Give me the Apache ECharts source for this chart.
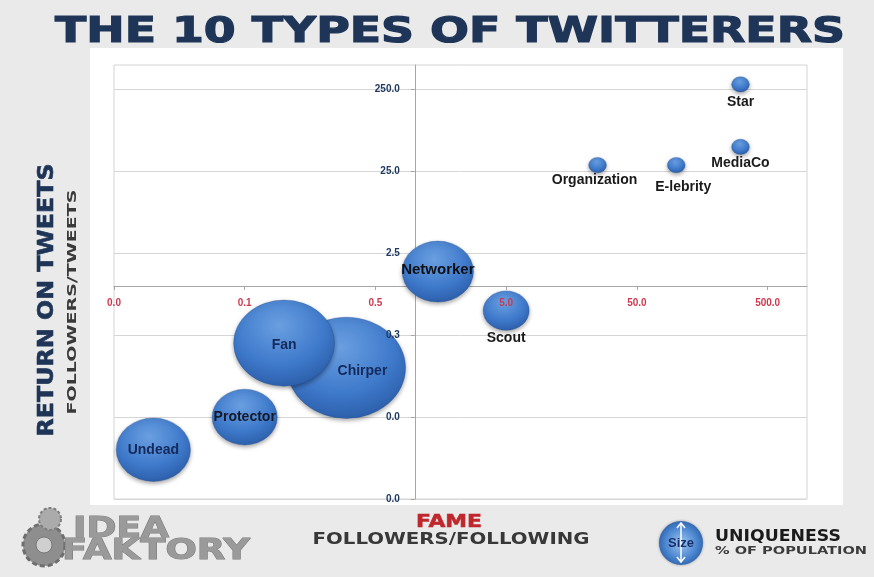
<!DOCTYPE html>
<html><head><meta charset="utf-8">
<script src="https://cdn.jsdelivr.net/npm/echarts@6/dist/echarts.min.js"></script>
<style>html,body{margin:0;padding:0;background:#eaeaea}#c{width:874px;height:577px}</style>
</head><body><div id="c"></div>
<script>
// ---- data ----
const names = ['Undead','Protector','Chirper','Fan','Networker','Scout','Organization','E-lebrity','MediaCo','Star'];
const fame = [0.01, 0.05, 0.3, 0.1, 1.5, 5, 25, 100, 310, 310];             // followers / following
const returnOnTweets = [0.01, 0.025, 0.1, 0.2, 1.5, 0.5, 30, 30, 50, 290];   // followers / tweets
const uniqueness = [13, 10, 33, 24, 12, 5, 0.75, 0.75, 0.75, 0.75];         // % of population
const xTicks = [0.005, 0.05, 0.5, 5, 50, 500];
const yTicks = [0.0025, 0.025, 0.25, 2.5, 25, 250];
const xRange = [0.005, 1000];
const yRange = [0.0025, 500];

// ---- styles ----
const navy = '#1e3557';
const labelCfg = {
  'Undead':      {position:'inside', color:'#15295a'},
  'Protector':   {position:'inside', color:'#161a28'},
  'Chirper':     {position:'inside', color:'#15295a', offset:[16,3]},
  'Fan':         {position:'inside', color:'#15295a', offset:[0,2]},
  'Networker':   {position:'inside', color:'#0f0f14', offset:[0,-2], fontSize:15},
  'Scout':       {position:'bottom', distance:1, color:'#1a1a1a'},
  'Organization':{position:'bottom', distance:0, color:'#1a1a1a', offset:[-3,0]},
  'E-lebrity':   {position:'bottom', distance:7, color:'#1a1a1a', offset:[7,0]},
  'MediaCo':     {position:'bottom', distance:1, color:'#1a1a1a'},
  'Star':        {position:'bottom', distance:3, color:'#1a1a1a'}
};
const G = {left:114, top:65, width:693, height:434};

const measCtx = document.createElement('canvas').getContext('2d');
function fit(text, font, target){ measCtx.font = font; return target / measCtx.measureText(text).width; }
function fitText(text, font, target, x, y, fill, extra){
  const s = fit(text, font, target);
  return Object.assign({type:'text', x:x, y:y, scaleX:s, scaleY:1,
    style:Object.assign({text:text, font:font, fill:fill, align:'center', verticalAlign:'middle'}, (extra||{}).style||{})},
    (extra||{}).el||{});
}

const bubbleFill = new echarts.graphic.RadialGradient(0.45, 0.3, 0.8, [
  {offset:0, color:'#6a9fe0'}, {offset:0.55, color:'#3f7acb'}, {offset:1, color:'#2656a0'}]);

const chart = echarts.init(document.getElementById('c'), null, {renderer:'canvas'});

const seriesData = names.map((n,i)=>({
  name:n, value:[fame[i], returnOnTweets[i], uniqueness[i]],
  label:Object.assign({show:true}, labelCfg[n])
}));

const titleFont = 'bold 36px "DejaVu Sans"';
const graphics = [
  {type:'rect', z:-10, shape:{x:90, y:48, width:753, height:457}, style:{fill:'#ffffff'}},
  fitText('THE 10 TYPES OF TWITTERERS', titleFont, 790, 450, 33, navy, {style:{stroke:navy, lineWidth:1.2}}),
  fitText('RETURN ON TWEETS', 'bold 21px "DejaVu Sans"', 273, 48, 300, navy, {el:{rotation:Math.PI/2}, style:{stroke:navy, lineWidth:0.6}}),
  fitText('FOLLOWERS/TWEETS', 'bold 13px "DejaVu Sans"', 225, 73, 302, '#3a3a3a', {el:{rotation:Math.PI/2}}),
  fitText('FAME', 'bold 18px "DejaVu Sans"', 66, 449, 522, '#c0272d', {style:{stroke:'#c0272d', lineWidth:0.6}}),
  fitText('FOLLOWERS/FOLLOWING', 'bold 15px "DejaVu Sans"', 277, 451, 540, '#383838'),
  // logo
  {type:'circle', shape:{cx:44, cy:545, r:21}, style:{fill:'#8e8e8e', stroke:'#6e6e6e', lineWidth:3, lineDash:[5,3]}},
  {type:'circle', shape:{cx:44, cy:545, r:8}, style:{fill:'#cfcfcf', stroke:'#777', lineWidth:1}},
  {type:'circle', shape:{cx:50, cy:519, r:11}, style:{fill:'#ababab', stroke:'#7e7e7e', lineWidth:2, lineDash:[3,2]}},
  fitText('IDEA', 'bold 28px "DejaVu Sans"', 96, 121, 530, '#9a9a9a', {style:{stroke:'#7c7c7c', lineWidth:1}}),
  fitText('FAKTORY', 'bold 28px "DejaVu Sans"', 188, 156, 552, '#9a9a9a', {style:{stroke:'#7c7c7c', lineWidth:1}}),
  // size legend
  {type:'circle', shape:{cx:681, cy:543, r:22}, style:{fill:new echarts.graphic.RadialGradient(0.5,0.5,0.6,[
      {offset:0,color:'#9fc6f0'},{offset:0.6,color:'#4b86d0'},{offset:1,color:'#23539c'}]), shadowBlur:3, shadowColor:'rgba(0,0,0,0.35)'}},
  {type:'line', shape:{x1:681, y1:524, x2:681, y2:562}, style:{stroke:'#ffffff', lineWidth:1.5}},
  {type:'polyline', shape:{points:[[677,528],[681,523],[685,528]]}, style:{stroke:'#fff', lineWidth:1.5, fill:null}},
  {type:'polyline', shape:{points:[[677,557],[681,562],[685,557]]}, style:{stroke:'#fff', lineWidth:1.5, fill:null}},
  {type:'text', x:681, y:543, style:{text:'Size', font:'bold 13px "Liberation Sans"', fill:'#17306a', align:'center', verticalAlign:'middle'}},
  fitText('UNIQUENESS', 'bold 15px "DejaVu Sans"', 126, 778, 537, '#1a1a1a'),
  fitText('% OF POPULATION', 'bold 10px "DejaVu Sans"', 152, 791, 551, '#3c3c3c')
];

function makeOption(xOff, yOff){
  const axLine = {show:true, onZero:false, lineStyle:{color:'#a6a6a6', width:1}};
  return {
    animation:false,
    backgroundColor:'#eaeaea',
    textStyle:{fontFamily:'"Liberation Sans"'},
    grid:{left:G.left, top:G.top, width:G.width, height:G.height, show:true,
          backgroundColor:'#ffffff', borderColor:'#d4d4d4', borderWidth:1},
    graphic:graphics,
    xAxis:[
      {type:'log', logBase:10, min:xRange[0], max:xRange[1], position:'bottom', offset:xOff, z:1,
       axisLine:axLine, axisTick:{show:true, customValues:xTicks, length:4, lineStyle:{color:'#a6a6a6'}},
       axisLabel:{show:false}, splitLine:{show:false}, minorTick:{show:false}},
      {type:'log', logBase:10, min:xRange[0], max:xRange[1], position:'bottom', offset:xOff, z:10,
       axisLine:{show:false, onZero:false}, axisTick:{show:false, customValues:xTicks},
       axisLabel:{show:true, customValues:xTicks, margin:12, color:'#cc3a4e', fontWeight:'bold', fontSize:10,
                  formatter:v=>Number(v).toFixed(1)},
       splitLine:{show:false}}
    ],
    yAxis:[
      {type:'log', logBase:10, min:yRange[0], max:yRange[1], position:'left', offset:yOff, z:1,
       axisLine:axLine, axisTick:{show:true, customValues:yTicks, length:4, lineStyle:{color:'#a6a6a6'}},
       axisLabel:{show:false}, splitLine:{show:true, lineStyle:{color:'#d6d6d6', width:1}}},
      {type:'log', logBase:10, min:yRange[0], max:yRange[1], position:'left', offset:yOff, z:10,
       axisLine:{show:false, onZero:false}, axisTick:{show:false, customValues:yTicks},
       axisLabel:{show:true, customValues:yTicks, margin:15, color:'#1f3a62', fontWeight:'bold', fontSize:10,
                  formatter:v=>Number(v).toFixed(1)},
       splitLine:{show:false}}
    ],
    series:[{
      type:'scatter', xAxisIndex:0, yAxisIndex:0, z:3,
      data:seriesData,
      symbol:'circle',
      symbolSize:v=>{const h = 17.6*Math.sqrt(v[2]); return [h*1.17, h];},
      itemStyle:{color:bubbleFill, opacity:1, borderColor:'rgba(30,70,140,0.6)', borderWidth:0.5,
                 shadowBlur:4, shadowColor:'rgba(0,0,0,0.35)', shadowOffsetY:2},
      label:{show:true, formatter:'{b}', fontFamily:'"Liberation Sans"', fontWeight:'bold', fontSize:14},
      emphasis:{disabled:true}
    }]
  };
}

chart.setOption(makeOption(0,0));
const p = chart.convertToPixel({xAxisIndex:0, yAxisIndex:0}, [1,1]);
const xOff = p[1] - (G.top + G.height);
const yOff = G.left - p[0];
chart.setOption(makeOption(xOff, yOff));
</script></body></html>
